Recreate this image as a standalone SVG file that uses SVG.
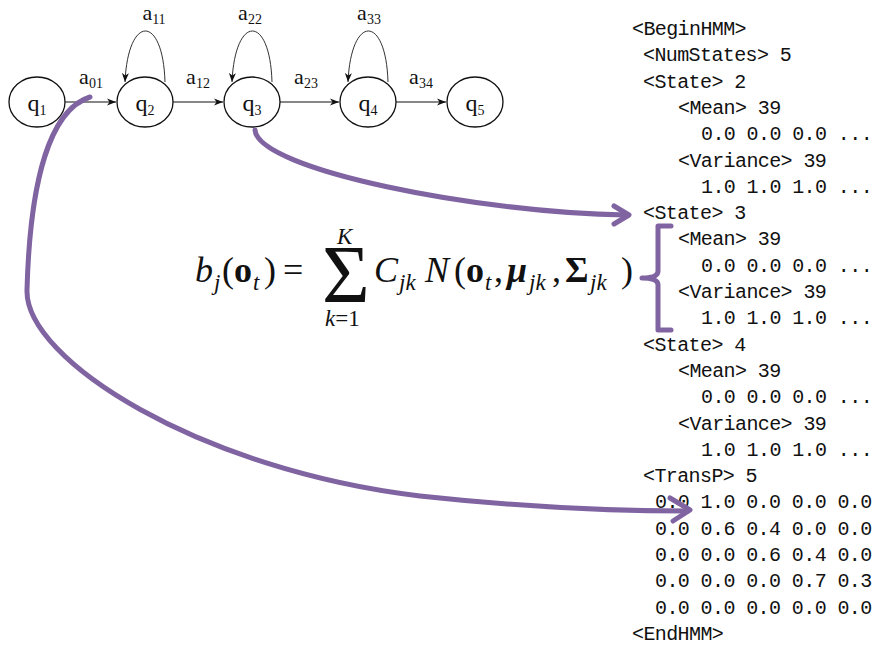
<svg xmlns="http://www.w3.org/2000/svg" width="877" height="648" viewBox="0 0 877 648">
<defs>
<marker id="ah" markerWidth="10" markerHeight="8" refX="9" refY="4" orient="auto" markerUnits="userSpaceOnUse">
<path d="M0,0.5 L9,4 L0,7.5 L2.5,4 Z" fill="#111"/>
</marker>
<style>
.node ellipse{fill:#fff;stroke:#111;stroke-width:1.3}
.lbl{font-family:"Liberation Serif","Times New Roman",serif;font-size:24px;fill:#111}
.al{font-family:"Liberation Serif","Times New Roman",serif;font-size:22px;fill:#111}
.edge{fill:none;stroke:#111;stroke-width:1.2;marker-end:url(#ah)}
.loop{fill:none;stroke:#333;stroke-width:1;marker-end:url(#ah)}
.mono{font-family:"Liberation Mono","Courier New",monospace;font-size:20px;letter-spacing:-0.6px;fill:#111}
.m{font-family:"Liberation Serif","Times New Roman",serif;fill:#111}
.mi{font-family:"Liberation Serif","Times New Roman",serif;font-style:italic;fill:#111}
.pur{fill:none;stroke:#8064A2;stroke-width:5;stroke-linecap:round;stroke-linejoin:round}
</style>
</defs>
<rect width="877" height="648" fill="#fff"/>

<g id="connectors">
<path class="edge" d="M65,102 L116,102"/>
<path class="edge" d="M173,102 L223,102"/>
<path class="edge" d="M280,102 L339,102"/>
<path class="edge" d="M396,102 L446,102"/>
<path class="loop" d="M165,82 C163,14 128,14 125,82"/>
<path class="loop" d="M272,82 C270,14 235,14 232,82"/>
<path class="loop" d="M388,82 C386,14 351,14 348,82"/>
</g>

<g id="edge-labels">
<text class="al" x="91" y="84" text-anchor="middle">a<tspan font-size="14" dy="4">01</tspan></text>
<text class="al" x="198" y="84" text-anchor="middle">a<tspan font-size="14" dy="4">12</tspan></text>
<text class="al" x="306" y="84" text-anchor="middle">a<tspan font-size="14" dy="4">23</tspan></text>
<text class="al" x="421" y="84" text-anchor="middle">a<tspan font-size="14" dy="4">34</tspan></text>
<text class="al" x="154" y="20" text-anchor="middle">a<tspan font-size="14" dy="4">11</tspan></text>
<text class="al" x="250" y="20" text-anchor="middle">a<tspan font-size="14" dy="4">22</tspan></text>
<text class="al" x="369" y="20" text-anchor="middle">a<tspan font-size="14" dy="4">33</tspan></text>
</g>

<g id="q1" class="node"><ellipse cx="37" cy="102" rx="28" ry="25"/><text class="lbl" x="37" y="111" text-anchor="middle">q<tspan font-size="14" dy="4">1</tspan></text></g>
<g id="q2" class="node"><ellipse cx="145" cy="102" rx="28" ry="25"/><text class="lbl" x="145" y="111" text-anchor="middle">q<tspan font-size="14" dy="4">2</tspan></text></g>
<g id="q3" class="node"><ellipse cx="252" cy="102" rx="28" ry="25"/><text class="lbl" x="252" y="111" text-anchor="middle">q<tspan font-size="14" dy="4">3</tspan></text></g>
<g id="q4" class="node"><ellipse cx="368" cy="102" rx="28" ry="25"/><text class="lbl" x="368" y="111" text-anchor="middle">q<tspan font-size="14" dy="4">4</tspan></text></g>
<g id="q5" class="node"><ellipse cx="475" cy="102" rx="28" ry="25"/><text class="lbl" x="475" y="111" text-anchor="middle">q<tspan font-size="14" dy="4">5</tspan></text></g>

<g id="hmm-def" class="mono">
<text x="632" y="35">&lt;BeginHMM&gt;</text>
<text x="643" y="61.3">&lt;NumStates&gt; 5</text>
<text x="643" y="87.6">&lt;State&gt; 2</text>
<text x="678" y="113.9">&lt;Mean&gt; 39</text>
<text x="701" y="140.2">0.0 0.0 0.0 ...</text>
<text x="678" y="166.5">&lt;Variance&gt; 39</text>
<text x="701" y="192.8">1.0 1.0 1.0 ...</text>
<text x="643" y="219.1">&lt;State&gt; 3</text>
<text x="678" y="245.4">&lt;Mean&gt; 39</text>
<text x="701" y="271.7">0.0 0.0 0.0 ...</text>
<text x="678" y="298">&lt;Variance&gt; 39</text>
<text x="701" y="324.3">1.0 1.0 1.0 ...</text>
<text x="643" y="350.6">&lt;State&gt; 4</text>
<text x="678" y="376.9">&lt;Mean&gt; 39</text>
<text x="701" y="403.2">0.0 0.0 0.0 ...</text>
<text x="678" y="429.5">&lt;Variance&gt; 39</text>
<text x="701" y="455.8">1.0 1.0 1.0 ...</text>
<text x="643" y="482.1">&lt;TransP&gt; 5</text>
<text x="655" y="508.4">0.0 1.0 0.0 0.0 0.0</text>
<text x="655" y="534.7">0.0 0.6 0.4 0.0 0.0</text>
<text x="655" y="561">0.0 0.0 0.6 0.4 0.0</text>
<text x="655" y="587.3">0.0 0.0 0.0 0.7 0.3</text>
<text x="655" y="613.6">0.0 0.0 0.0 0.0 0.0</text>
<text x="632" y="639.9">&lt;EndHMM&gt;</text>
</g>

<g id="equation">
<text class="mi" x="195" y="282" font-size="36">b</text>
<text class="mi" x="214" y="290" font-size="23">j</text>
<text class="m" x="222" y="282" font-size="36">(</text>
<text class="m" x="234" y="282" font-size="36" font-weight="bold">o</text>
<text class="mi" x="253" y="290" font-size="23">t</text>
<text class="m" x="264" y="282" font-size="36">)</text>
<text class="m" x="283" y="282" font-size="36">=</text>
<text class="m" x="322" y="302" font-size="82">Σ</text>
<text class="mi" x="337" y="244" font-size="23">K</text>
<text class="mi" x="325" y="326" font-size="23">k<tspan font-style="normal">=1</tspan></text>
<text class="mi" x="374" y="282" font-size="36">C</text>
<text class="mi" x="399" y="290" font-size="23">jk</text>
<text class="mi" x="425" y="282" font-size="36">N</text>
<text class="m" x="454" y="282" font-size="36">(</text>
<text class="m" x="466" y="282" font-size="36" font-weight="bold">o</text>
<text class="mi" x="485" y="290" font-size="23">t</text>
<text class="m" x="494" y="282" font-size="36">,</text>
<text class="mi" x="507" y="282" font-size="36" font-weight="bold">μ</text>
<text class="mi" x="529" y="290" font-size="23">jk</text>
<text class="m" x="552" y="282" font-size="36">,</text>
<text class="m" x="565" y="282" font-size="36" font-weight="bold">Σ</text>
<text class="mi" x="590" y="290" font-size="23">jk</text>
<text class="m" x="621" y="282" font-size="36">)</text>
</g>

<g id="annotations">
<path class="pur" d="M255,130 C258,170 480,213 626,215"/>
<path class="pur" d="M614,206 L629,215 L614,224"/>
<path class="pur" d="M90,97 C50,110 30,180 27,290 C25,360 200,470 420,496 C530,508 620,511 688,511"/>
<path class="pur" d="M670,498 L690,510 L673,521"/>
<path class="pur" d="M671,226 L658,226 L658,271 Q658,278 642,278 Q658,278 658,285 L658,330 L671,330"/>
</g>
</svg>
